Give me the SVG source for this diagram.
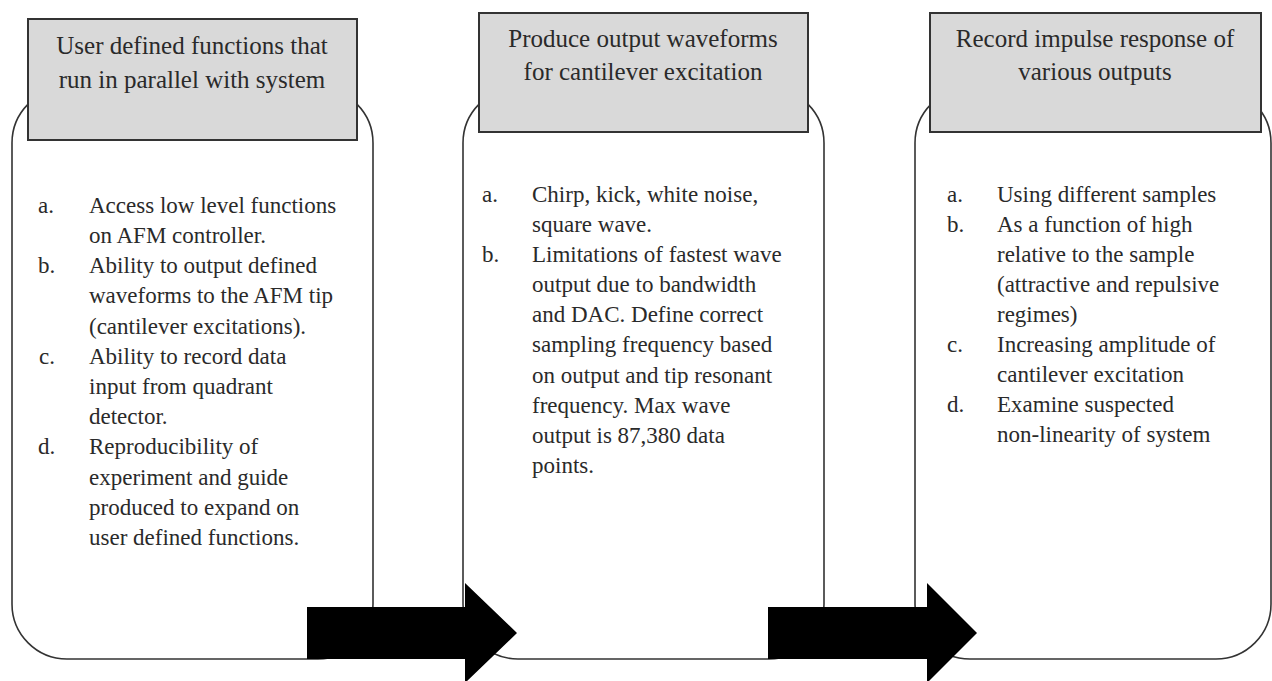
<svg xmlns="http://www.w3.org/2000/svg" width="1272" height="681" viewBox="0 0 1272 681">
<style>
.box{fill:#fff;stroke:#333;stroke-width:1.6}
.hdr{fill:#d9d9d9;stroke:#333;stroke-width:2}
.ht{font-family:"Liberation Serif",serif;font-size:25px;fill:#2a2a2a;text-anchor:middle}
.bt{font-family:"Liberation Serif",serif;font-size:23px;fill:#2a2a2a}
.arrow{fill:#000}
</style>
<rect width="1272" height="681" fill="#fff"/>
<g id="node1">
<rect class="box" x="12" y="88" width="361" height="571" rx="55" ry="55"/>
<rect class="hdr" x="28" y="19" width="329" height="121"/>
<text class="ht" x="192" y="54">User defined functions that</text>
<text class="ht" x="192" y="88">run in parallel with system</text>
<g class="bt">
<text x="38" y="213">a.</text><text x="89" y="213">Access low level functions</text>
<text x="89" y="243">on AFM controller.</text>
<text x="38" y="273">b.</text><text x="89" y="273">Ability to output defined</text>
<text x="89" y="303">waveforms to the AFM tip</text>
<text x="89" y="334">(cantilever excitations).</text>
<text x="39" y="364">c.</text><text x="89" y="364">Ability to record data</text>
<text x="89" y="394">input from quadrant</text>
<text x="89" y="424">detector.</text>
<text x="38" y="454">d.</text><text x="89" y="454">Reproducibility of</text>
<text x="89" y="485">experiment and guide</text>
<text x="89" y="515">produced to expand on</text>
<text x="89" y="545">user defined functions.</text>
</g>
</g>
<g id="node2">
<rect class="box" x="463" y="88" width="361" height="571" rx="55" ry="55"/>
<rect class="hdr" x="479" y="13" width="329" height="119"/>
<text class="ht" x="643" y="47">Produce output waveforms</text>
<text class="ht" x="643" y="80">for cantilever excitation</text>
<g class="bt">
<text x="482" y="202">a.</text><text x="532" y="202">Chirp, kick, white noise,</text>
<text x="532" y="232">square wave.</text>
<text x="482" y="262">b.</text><text x="532" y="262">Limitations of fastest wave</text>
<text x="532" y="292">output due to bandwidth</text>
<text x="532" y="322">and DAC. Define correct</text>
<text x="532" y="352">sampling frequency based</text>
<text x="532" y="383">on output and tip resonant</text>
<text x="532" y="413">frequency. Max wave</text>
<text x="532" y="443">output is 87,380 data</text>
<text x="532" y="473">points.</text>
</g>
</g>
<g id="node3">
<rect class="box" x="915" y="88" width="356" height="571" rx="55" ry="55"/>
<rect class="hdr" x="930" y="13" width="331" height="119"/>
<text class="ht" x="1095" y="47">Record impulse response of</text>
<text class="ht" x="1095" y="80">various outputs</text>
<g class="bt">
<text x="947" y="202">a.</text><text x="997" y="202">Using different samples</text>
<text x="947" y="232">b.</text><text x="997" y="232">As a function of high</text>
<text x="997" y="262">relative to the sample</text>
<text x="997" y="292">(attractive and repulsive</text>
<text x="997" y="322">regimes)</text>
<text x="947" y="352">c.</text><text x="997" y="352">Increasing amplitude of</text>
<text x="997" y="382">cantilever excitation</text>
<text x="947" y="412">d.</text><text x="997" y="412">Examine suspected</text>
<text x="997" y="442">non-linearity of system</text>
</g>
</g>
<g id="connectors">
<polygon class="arrow" points="307,607 465,607 465,583 517,633 465,683 465,659 307,659"/>
<polygon class="arrow" points="768,607 927,607 927,583 977,633 927,683 927,659 768,659"/>
</g>
</svg>
